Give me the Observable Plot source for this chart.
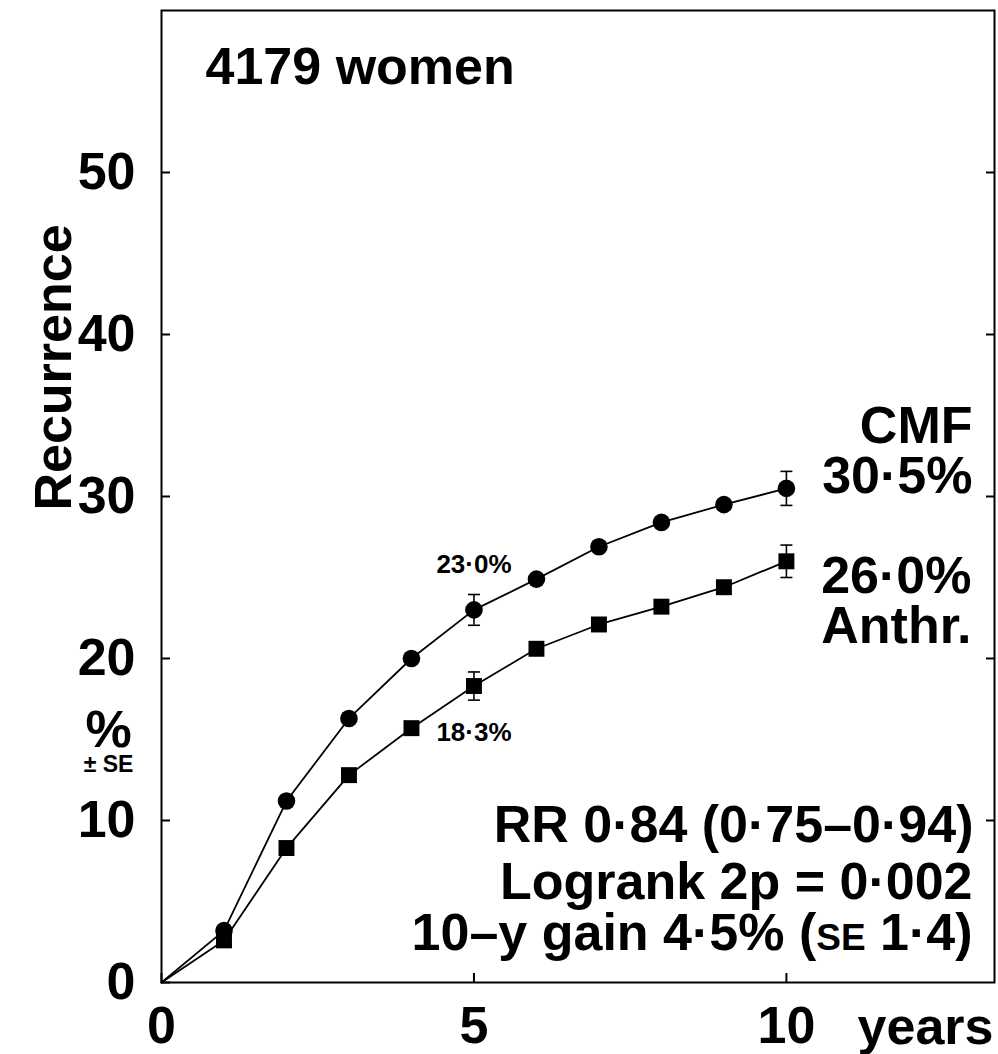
<!DOCTYPE html>
<html><head><meta charset="utf-8">
<script src="https://cdn.jsdelivr.net/npm/d3@7"></script>
<script src="https://cdn.jsdelivr.net/npm/@observablehq/plot@0.6"></script>
<style>body{margin:0;background:#fff} svg{display:block}</style>
</head><body><div id="chart"></div>
<script>
// ---- data ----
const years = [0, 1, 2, 3, 4, 5, 6, 7, 8, 9, 10];
const cmf   = [0, 3.2, 11.2, 16.3, 20.0, 23.0, 24.9, 26.9, 28.4, 29.5, 30.5];
const anthr = [0, 2.6, 8.3, 12.8, 15.7, 18.3, 20.6, 22.1, 23.2, 24.4, 26.0];
const seYears = [5, 10];
const cmfSE   = [0.95, 1.05];
const anthrSE = [0.87, 1.0];
const xTicks = [0, 5, 10];
const yTicks = [0, 10, 20, 30, 40, 50];
const xDomain = [0, 13.33];
const yDomain = [0, 60];
const title = "4179 women";
const yLabel = "Recurrence";
const yUnit = "%";
const yUnitSub = "\u00b1 SE";
const xLabel = "years";
const armNames = ["CMF", "Anthr."];
const statLines = ["RR 0\u00b784 (0\u00b775\u20130\u00b794)", "Logrank 2p = 0\u00b7002", "10\u2013y gain 4\u00b75% (SE 1\u00b74)"];

const FONT = "'Liberation Sans', Arial, Helvetica, sans-serif";
const fmt = v => v.toFixed(1).replace(".", "\u00b7") + "%";

const cmfRows = years.map((t, i) => ({year: t, value: cmf[i]}));
const anthrRows = years.map((t, i) => ({year: t, value: anthr[i]}));
const errRows = seYears.flatMap((t, j) => {
  const i = years.indexOf(t);
  return [
    {year: t, lo: cmf[i] - cmfSE[j], hi: cmf[i] + cmfSE[j]},
    {year: t, lo: anthr[i] - anthrSE[j], hi: anthr[i] + anthrSE[j]}
  ];
});
const capSymbol = {draw(ctx, size) { const w = Math.sqrt(size / Math.PI); ctx.moveTo(-w, 0); ctx.lineTo(w, 0); }};
const i5 = years.indexOf(5), i10 = years.indexOf(10);

const big = {fontSize: 52, fontWeight: "bold", fill: "black"};

const svg = Plot.plot({
  width: 998, height: 1054,
  marginLeft: 161, marginRight: 4, marginTop: 10, marginBottom: 72,
  style: {fontFamily: FONT, background: "white", color: "black"},
  x: {domain: xDomain},
  y: {domain: yDomain},
  marks: [
    Plot.frame({stroke: "black", strokeWidth: 2}),
    Plot.line(cmfRows, {x: "year", y: "value", stroke: "black", strokeWidth: 1.8}),
    Plot.line(anthrRows, {x: "year", y: "value", stroke: "black", strokeWidth: 1.8}),
    Plot.ruleX(errRows, {x: "year", y1: "lo", y2: "hi", stroke: "black", strokeWidth: 1.6}),
    Plot.dot(errRows, {x: "year", y: "lo", symbol: capSymbol, r: 6, stroke: "black", strokeWidth: 1.6, fill: "none"}),
    Plot.dot(errRows, {x: "year", y: "hi", symbol: capSymbol, r: 6, stroke: "black", strokeWidth: 1.6, fill: "none"}),
    Plot.dot(cmfRows.filter(d => d.year > 0), {x: "year", y: "value", symbol: "circle", r: 8.8, fill: "black"}),
    Plot.dot(anthrRows.filter(d => d.year > 0), {x: "year", y: "value", symbol: "square", r: 9, fill: "black"}),
    Plot.axisY({ticks: yTicks, tickSize: -9, tickPadding: 35, label: null, strokeWidth: 2, ...big}),
    Plot.axisY({anchor: "right", ticks: yTicks.filter(d => d > 0), tickSize: -9, tickFormat: () => "", label: null, strokeWidth: 2}),
    Plot.axisX({ticks: xTicks, tickSize: -9, tickPadding: 33, label: null, strokeWidth: 2, ...big}),
    // title inside frame
    Plot.text([title], {text: d => d, frameAnchor: "top-left", dx: 44, dy: 73, textAnchor: "start", lineAnchor: "bottom", ...big}),
    // axis labels
    Plot.text([yLabel], {text: d => d, frameAnchor: "left", dx: -91, dy: -129, rotate: -90, textAnchor: "middle", lineAnchor: "bottom", ...big}),
    Plot.text([yUnit], {text: d => d, frameAnchor: "left", dx: -53, dy: 250, textAnchor: "middle", lineAnchor: "bottom", ...big}),
    Plot.text([xLabel], {text: d => d, frameAnchor: "bottom-right", dx: -1, dy: 61, textAnchor: "end", lineAnchor: "bottom", ...big}),
    // arm labels at right
    Plot.text([armNames[0] + "\n" + fmt(cmf[i10])], {text: d => d, frameAnchor: "top-right", dx: -22, dy: 482, lineHeight: 50 / 52, textAnchor: "end", lineAnchor: "bottom", ...big}),
    Plot.text([fmt(anthr[i10]) + "\n" + armNames[1]], {text: d => d, frameAnchor: "top-right", dx: -23, dy: 632, lineHeight: 50 / 52, textAnchor: "end", lineAnchor: "bottom", ...big}),
    // 5-year values
    Plot.text([cmfRows[i5]], {x: "year", y: "value", text: d => fmt(d.value), dy: -37, textAnchor: "middle", lineAnchor: "bottom", fontSize: 26, fontWeight: "bold"}),
    Plot.text([anthrRows[i5]], {x: "year", y: "value", text: d => fmt(d.value), dy: 55, textAnchor: "middle", lineAnchor: "bottom", fontSize: 26, fontWeight: "bold"}),
    // statistics
    Plot.text([statLines[0]], {text: d => d, frameAnchor: "bottom-right", dx: -21, dy: -141, textAnchor: "end", lineAnchor: "bottom", ...big}),
    Plot.text([statLines[1]], {text: d => d, frameAnchor: "bottom-right", dx: -22, dy: -84, textAnchor: "end", lineAnchor: "bottom", ...big}),
    Plot.text([statLines[2]], {text: d => d, frameAnchor: "bottom-right", dx: -22, dy: -33, textAnchor: "end", lineAnchor: "bottom", ...big})
  ]
});

const root = d3.select(svg);
// small-caps "SE" in the last statistic line
root.selectAll("text").filter(function() { return this.textContent === statLines[2]; }).each(function() {
  const t = d3.select(this);
  const parts = statLines[2].split("SE");
  t.text(null);
  t.append("tspan").text(parts[0]);
  t.append("tspan").attr("font-size", 37).text("SE");
  t.append("tspan").text(parts[1]);
});
// "%" with a small "± SE" line beneath it, in the same text element
root.selectAll("text").filter(function() { return this.textContent === yUnit; }).each(function() {
  const t = d3.select(this);
  t.text(null);
  t.append("tspan").attr("x", 0).text(yUnit);
  t.append("tspan").attr("x", 0).attr("dy", 25).attr("font-size", 23).text(yUnitSub);
});

document.getElementById("chart").appendChild(svg);
</script>
</body></html>
